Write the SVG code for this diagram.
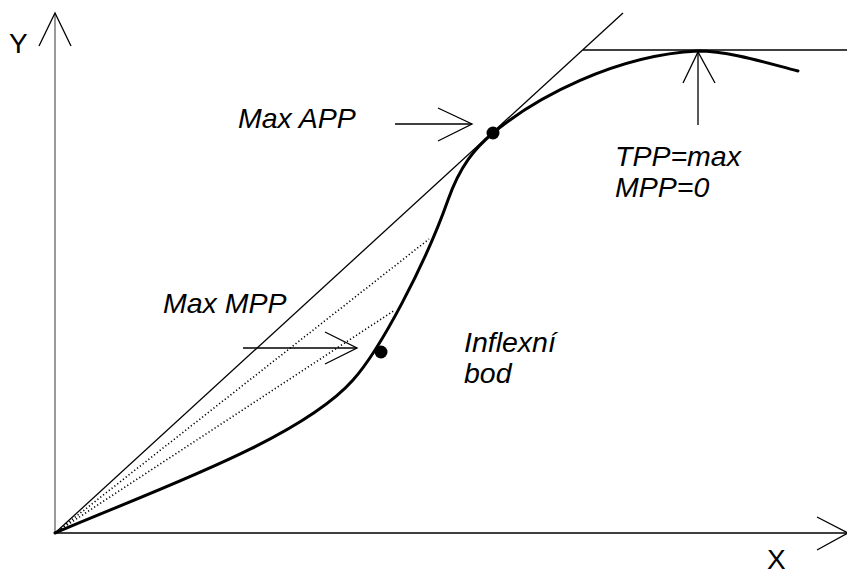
<svg xmlns="http://www.w3.org/2000/svg" width="847" height="574" viewBox="0 0 847 574">
<style>
.thin{fill:none;stroke:#000;stroke-width:1.3}
.curve{fill:none;stroke:#000;stroke-width:3;stroke-linecap:round}
.dot{fill:none;stroke:#000;stroke-width:1.6;stroke-dasharray:1.2 2.4}
.lbl{font-family:"Liberation Sans",Arial,sans-serif;font-size:28.5px;font-style:italic;fill:#000}
.ax{font-family:"Liberation Sans",Arial,sans-serif;font-size:28px;fill:#000}
</style>
<rect width="847" height="574" fill="#fff"/>
<g id="axes">
<line x1="55" y1="533" x2="55" y2="13" stroke="#808080" stroke-width="1.6"/>
<polyline points="39,46 55,13 71,46" class="thin" stroke="#000"/>
<line x1="55" y1="533" x2="848" y2="533" class="thin" stroke-width="1.5"/>
<polyline points="817,517 848,533 817,550" class="thin"/>
<text class="ax" x="9" y="53">Y</text>
<text class="ax" x="767" y="569">X</text>
</g>
<g id="connectors">
<line x1="55" y1="533" x2="623" y2="13" class="thin" stroke-width="1.5"/>
<line x1="583" y1="50" x2="847" y2="50" class="thin" stroke-width="1.5"/>
<line x1="55" y1="533" x2="429" y2="239" class="dot"/>
<line x1="55" y1="533" x2="395" y2="310" class="dot"/>
<path class="curve" d="M55,533 C150,492 300,440 353,380 C380,350 425,265 448,200 C460,166 475,148 493,133 C535,98 615,55 698,51 C730,51 770,64 798,71"/>
<line x1="395" y1="124" x2="472" y2="124" class="thin"/>
<polyline points="438,108 472,124 438,141" class="thin"/>
<line x1="243" y1="348" x2="357" y2="348" class="thin"/>
<polyline points="325,332 357,348 325,364" class="thin"/>
<line x1="698" y1="125" x2="698" y2="52" class="thin"/>
<polyline points="683,83 698,52 715,83" class="thin"/>
</g>
<g id="maxapp">
<circle cx="493" cy="133" r="6.5" fill="#000"/>
<text class="lbl" x="238" y="128">Max APP</text>
</g>
<g id="inflexni">
<circle cx="381" cy="352" r="6.5" fill="#000"/>
<text class="lbl" x="464" y="352">Inflexní</text>
<text class="lbl" x="464" y="383">bod</text>
</g>
<g id="maxmpp">
<text class="lbl" x="163" y="313">Max MPP</text>
</g>
<g id="tpp">
<text class="lbl" x="615" y="166">TPP=max</text>
<text class="lbl" x="615" y="197">MPP=0</text>
</g>
</svg>
